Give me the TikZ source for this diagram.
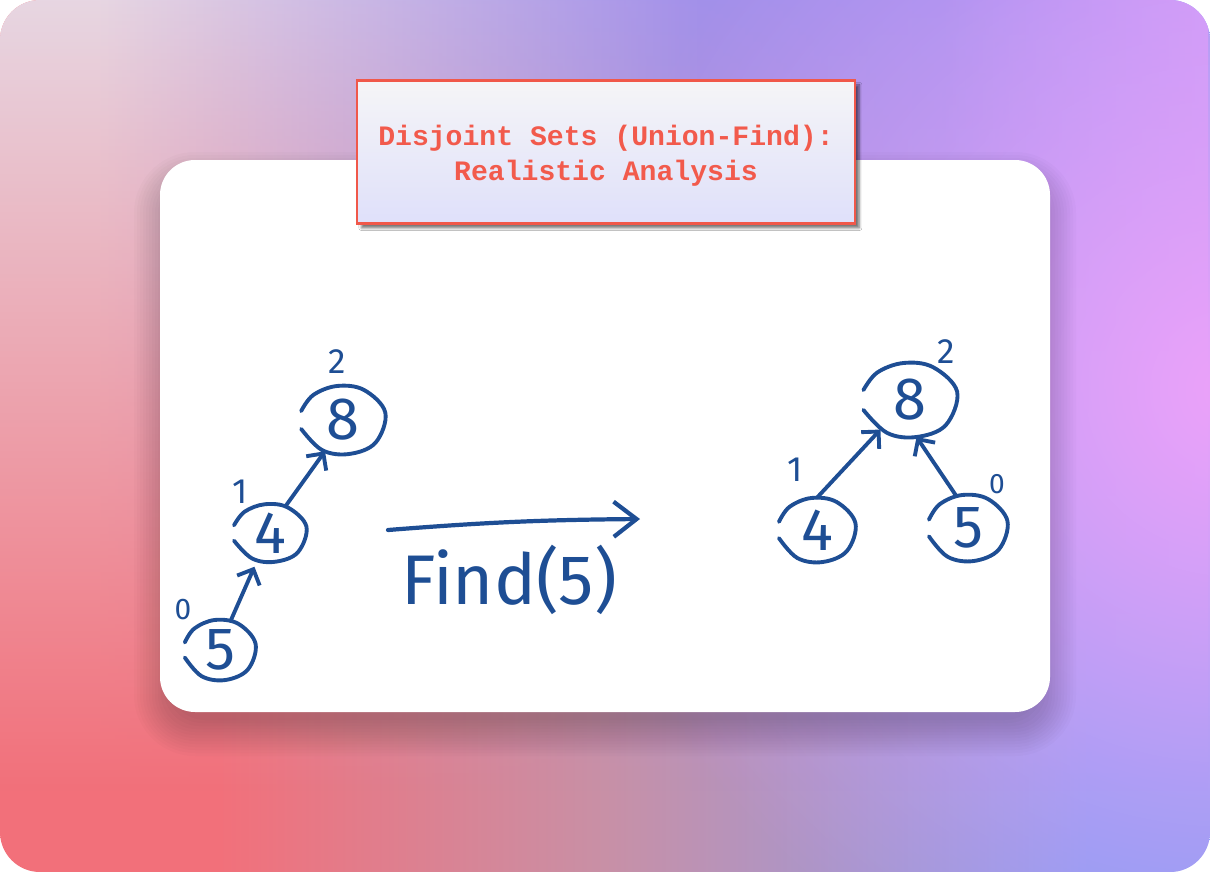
\documentclass[tikz,border=0pt]{standalone}
\usepackage{fontspec}
\setmainfont{Fira Sans}
\newfontfamily\titlefont{Liberation Mono}
\usetikzlibrary{shapes.geometric,arrows.meta,shadows.blur,fadings}
\tikzfading[name=blobfade, inner color=transparent!0, outer color=transparent!100]
\tikzfading[name=fadedown, top color=transparent!0, bottom color=transparent!100]
\definecolor{ink}{HTML}{1E4E94}
\definecolor{titlered}{HTML}{F25A4C}
\definecolor{boxborder}{HTML}{F0584A}
\definecolor{botleft}{HTML}{F2707A}
\definecolor{botmid}{HTML}{C890A6}
\definecolor{botright}{HTML}{889CF2}
\definecolor{topleft}{HTML}{E6E2EE}
\definecolor{topmid}{HTML}{A090F0}
\definecolor{topright}{HTML}{C89AF8}
\definecolor{bgpink}{HTML}{ECA2FA}
\definecolor{boxtop}{HTML}{F5F5F7}
\definecolor{boxbot}{HTML}{DFE0FA}
\pgfdeclarehorizontalshading{topshade}{100bp}{color(0bp)=(topleft); color(29bp)=(topleft); color(54bp)=(topmid); color(64bp)=(topmid); color(75bp)=(topright); color(100bp)=(topright)}
\pgfdeclarehorizontalshading{botshade}{100bp}{color(0bp)=(botleft); color(34bp)=(botleft); color(50bp)=(botmid); color(70bp)=(botright); color(100bp)=(botright)}
\begin{document}
\begin{tikzpicture}[x=0.02cm,y=-0.02cm,
  handnode/.style={ellipse, inner sep=0pt, text=ink, font=\fontsize{34}{36}\selectfont},
  inkline/.style={draw=ink, line width=2.2pt, line cap=round, line join=round},
  rank/.style={text=ink, inner sep=0pt, font=\fontsize{20}{22}\selectfont},
  harrow/.style={inkline, -{Straight Barb[length=7pt,width=14pt,line width=2.2pt]}},
  bigarrow/.style={draw=ink, line width=2.4pt, line cap=round,
    -{Straight Barb[length=13pt,width=20pt,line width=2.4pt]}},
  titlebox/.style={draw=boxborder, line width=1.2pt, top color=boxtop, bottom color=boxbot,
    minimum width=9.96cm, minimum height=2.86cm,
    blur shadow={shadow xshift=2.5pt, shadow yshift=-2.5pt, shadow blur radius=1.5pt, shadow opacity=55}},
  titletext/.style={align=center, text=titlered, inner sep=0pt,
    font=\titlefont\bfseries\fontsize{16}{19.8}\selectfont}
]
\useasboundingbox (0,0) rectangle (1210,872);
% background
\begin{scope}
  \clip[rounded corners=0.8cm] (0,0) rectangle (1210,872);
  \shade[shading=botshade] (0,0) rectangle (1210,872);
  \shade[shading=topshade, path fading=fadedown] (0,-90) rectangle (1210,790);
  \fill[bgpink, path fading=blobfade] (1230,390) circle[radius=13cm];
\end{scope}
% card shadow (layered)
\foreach \i in {0,...,12}{
  \pgfmathsetmacro{\e}{-10+3*\i}
  \pgfmathsetmacro{\rr}{(35+max(\e,0))*0.02}
  \fill[black, opacity=0.016, rounded corners=\rr cm]
    (160-\e,178-\e) rectangle (1050+\e,730+\e);
}
% card
\fill[white, rounded corners=0.7cm] (160,160) rectangle (1050,712);
% title
\node[titlebox] (title) at (606,152) {};
\node[titletext] (titlelabel) at (606,156) {Disjoint Sets (Union-Find):\\Realistic Analysis};
% left tree
\node[handnode, minimum width=1.72cm, minimum height=1.36cm] (L8) at (343,420) {8};
\node[handnode, minimum width=1.48cm, minimum height=1.12cm] (L4) at (270,533) {4};
\node[handnode, minimum width=1.44cm, minimum height=1.2cm] (L5) at (220,650) {5};
% right tree
\node[handnode, minimum width=1.92cm, minimum height=1.48cm] (R8) at (910,400) {8};
\node[handnode, minimum width=1.56cm, minimum height=1.28cm] (R4) at (817,530) {4};
\node[handnode, minimum width=1.6cm, minimum height=1.32cm] (R5) at (968,528) {5};
% hand-drawn rings, nearly closed at the left
\foreach \n in {L8,L4,L5,R8,R4,R5}{
  \draw[inkline] plot[smooth, tension=0.6] coordinates
    {(\n.192) (\n.235) (\n.280) (\n.325) (\n.10) (\n.55) (\n.100) (\n.140) (\n.168)};
}
\node[rank] (L8r) at (337,362) {2};
\node[rank] (L4r) at (240,492) {1};
\node[rank, font=\fontsize{17}{19}\selectfont] (L5r) at (183,610) {0};
\draw[harrow] (L4.60) -- (L8.240);
\draw[harrow, shorten >=4pt] (L5.70) -- (L4.245);
% middle arrow
\coordinate (ma) at (388,530);
\coordinate (mb) at (640,519);
\draw[bigarrow] (ma) to[bend left=2] (mb);
\node[text=ink, inner sep=0pt, font=\fontsize{40}{42}\selectfont] (find) at (509,580) {Find(5)};
\node[rank] (R8r) at (946,352) {2};
\node[rank] (R4r) at (795,470) {1};
\node[rank, font=\fontsize{16}{18}\selectfont] (R5r) at (997,484) {0};
\draw[harrow] (R4.north) -- (R8.225);
\draw[harrow] (R5.110) -- (R8.-80);
\end{tikzpicture}
\end{document}
